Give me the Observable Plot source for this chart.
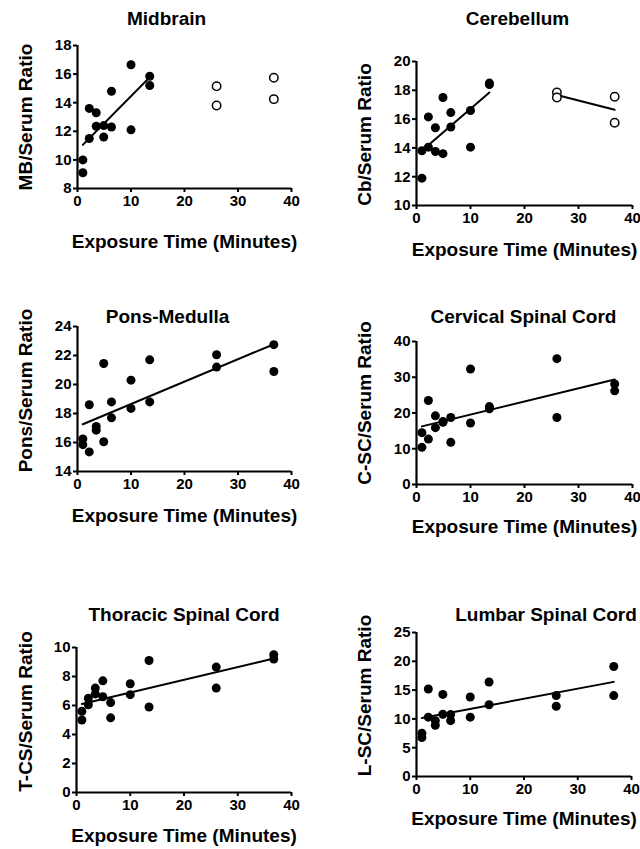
<!DOCTYPE html>
<html>
<head>
<meta charset="utf-8">
<script src="https://cdn.jsdelivr.net/npm/d3@7"></script>
<script src="https://cdn.jsdelivr.net/npm/@observablehq/plot@0.6"></script>
<style>
  body { margin: 0; background: #fff; }
  #chart { position: relative; width: 640px; height: 849px; overflow: hidden; background: #fff; }
  #chart svg { position: absolute; }
</style>
</head>
<body>
<div id="chart"></div>
<script>
// ---- data ----
const time = [1, 1, 2.2, 2.2, 3.5, 3.5, 4.9, 4.9, 6.35, 6.35, 10, 10, 13.5, 13.5, 26, 26, 36.7, 36.7];
const midbrain   = [10.0, 9.1, 13.6, 11.5, 13.3, 12.35, 12.4, 11.6, 14.8, 12.3, 16.65, 12.1, 15.85, 15.2, 15.15, 13.8, 15.75, 14.25];
const cerebellum = [13.8, 11.9, 16.15, 14.05, 15.4, 13.75, 17.5, 13.6, 16.45, 15.45, 16.6, 14.05, 18.5, 18.4, 17.85, 17.5, 17.55, 15.75];
const pons       = [16.25, 15.85, 18.6, 15.35, 17.1, 16.85, 21.45, 16.05, 18.8, 17.7, 20.3, 18.35, 21.7, 18.8, 22.05, 21.2, 22.75, 20.9];
const cervical   = [14.5, 10.4, 23.5, 12.7, 19.2, 15.9, 17.6, 17.4, 18.75, 11.8, 32.3, 17.2, 21.8, 21.2, 35.2, 18.75, 28.1, 26.2];
const thoracic   = [5.6, 5.0, 6.5, 6.05, 7.2, 6.8, 7.7, 6.6, 6.2, 5.15, 7.5, 6.75, 9.1, 5.9, 8.65, 7.2, 9.5, 9.2];
const lumbar     = [7.5, 6.75, 15.2, 10.3, 9.7, 8.9, 14.25, 10.8, 10.75, 9.7, 13.8, 10.3, 16.4, 12.45, 14.05, 12.2, 19.1, 14.05];

const titles  = ["Midbrain", "Cerebellum", "Pons-Medulla", "Cervical Spinal Cord", "Thoracic Spinal Cord", "Lumbar Spinal Cord"];
const yLabels = ["MB/Serum Ratio", "Cb/Serum Ratio", "Pons/Serum Ratio", "C-SC/Serum Ratio", "T-CS/Serum Ratio", "L-SC/Serum Ratio"];
const xLabel  = "Exposure Time (Minutes)";
const xDomain = [0, 40];
const xTicks  = [0, 10, 20, 30, 40];
const yDomains = [[8, 18], [10, 20], [14, 24], [0, 40], [0, 10], [0, 25]];
const yTicks   = [[8, 10, 12, 14, 16, 18], [10, 12, 14, 16, 18, 20], [14, 16, 18, 20, 22, 24],
                  [0, 10, 20, 30, 40], [0, 2, 4, 6, 8, 10], [0, 5, 10, 15, 20, 25]];
const lateStart = 26;                 // exposures from here on are drawn hollow in the first two panels
const hollowLate = [true, true, false, false, false, false];
const fitLate    = [false, true, false, false, false, false];
const series = [midbrain, cerebellum, pons, cervical, thoracic, lumbar];

// ---- layout (pixel geometry of each panel) ----
const layout = [
  {left: 0,   top: 0,   bottom: 262, x0: 77,  x1: 291, yT: 45,  yB: 188, tx: 166,   ty: 24,  lx: 31,  ly: 116.5, xb: 247},
  {left: 320, top: 0,   bottom: 272, x0: 416, x1: 632, yT: 61,  yB: 205, tx: 517,   ty: 24,  lx: 370, ly: 134,   xb: 255},
  {left: 0,   top: 290, bottom: 540, x0: 77,  x1: 291, yT: 326, yB: 471, tx: 167,   ty: 322, lx: 31,  ly: 390,   xb: 521},
  {left: 320, top: 290, bottom: 550, x0: 416, x1: 632, yT: 341, yB: 484, tx: 523,   ty: 322, lx: 370, ly: 402.5, xb: 532},
  {left: 0,   top: 590, bottom: 849, x0: 76,  x1: 291, yT: 647, yB: 792, tx: 183.5, ty: 620, lx: 31,  ly: 711,   xb: 841},
  {left: 320, top: 590, bottom: 849, x0: 416, x1: 631, yT: 632, yB: 776, tx: 545.5, ty: 620, lx: 370, ly: 695,   xb: 824}
];

const FONT = "'Liberation Sans', Arial, Helvetica, sans-serif";
const chart = document.getElementById("chart");

layout.forEach((L, i) => {
  const data = time.map((t, j) => ({t, v: series[i][j], late: t >= lateStart}));
  const filled = hollowLate[i] ? data.filter(d => !d.late) : data;
  const hollow = hollowLate[i] ? data.filter(d => d.late) : [];
  const fitData = hollowLate[i] && !fitLate[i] ? filled : data;

  const width = 320, height = L.bottom - L.top;
  const svg = Plot.plot({
    width, height,
    marginLeft: L.x0 - L.left,
    marginRight: L.left + width - L.x1,
    marginTop: L.yT - L.top,
    marginBottom: L.bottom - L.yB,
    style: {fontFamily: FONT, fontWeight: "bold", fontSize: "15px", color: "black", background: "white", overflow: "visible"},
    x: {domain: xDomain, inset: 0},
    y: {domain: yDomains[i], inset: 0},
    marks: [
      Plot.axisX({ticks: xTicks, tickSize: 4, tickPadding: 3, strokeWidth: 2, label: null}),
      Plot.axisY({ticks: yTicks[i], tickSize: 4, tickPadding: 2, strokeWidth: 2, label: null}),
      Plot.ruleY([yDomains[i][0]], {strokeWidth: 2.2}),
      Plot.ruleX([xDomain[0]], {strokeWidth: 2.2}),
      Plot.linearRegressionY(fitData, {x: "t", y: "v", z: fitLate[i] ? "late" : null, ci: 0, stroke: "black", strokeWidth: 2}),
      Plot.dot(filled, {x: "t", y: "v", r: 4.5, fill: "black", stroke: "none"}),
      Plot.dot(hollow, {x: "t", y: "v", r: 4.2, fill: "white", stroke: "black", strokeWidth: 1.5}),
      Plot.text([titles[i]], {frameAnchor: "top-left", dx: L.tx - L.x0, dy: L.ty - L.yT,
        textAnchor: "middle", lineAnchor: "bottom", fontSize: 19, fontWeight: "bold"}),
      Plot.text([yLabels[i]], {frameAnchor: "top-left", dx: L.lx - L.x0, dy: L.ly - L.yT, rotate: -90,
        textAnchor: "middle", lineAnchor: "bottom", fontSize: 19, fontWeight: "bold"}),
      Plot.text([xLabel], {frameAnchor: "bottom", dy: L.xb - L.yB,
        textAnchor: "middle", lineAnchor: "bottom", fontSize: 19, fontWeight: "bold"})
    ]
  });
  svg.style.left = L.left + "px";
  svg.style.top = L.top + "px";
  chart.appendChild(svg);
});
</script>
</body>
</html>
